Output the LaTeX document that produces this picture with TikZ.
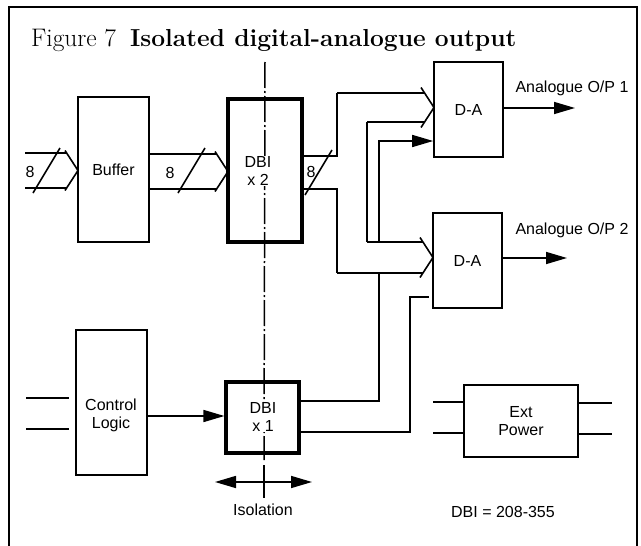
\documentclass[tikz,border=0pt]{standalone}
\usepackage{fontspec}
\setsansfont{Liberation Sans}
\usetikzlibrary{arrows.meta}
\newcommand\busto[5]{% tip x, centre y, half width, upper start x, lower start x
  \draw[wire] (#4,#2-#3) -- (#1-13*#3/20,#2-#3);
  \draw[wire] (#5,#2+#3) -- (#1-13*#3/20,#2+#3);
  \draw[wire,line join=miter] (#1-13,#2-20) -- (#1,#2) -- (#1-13,#2+20);
}
\begin{document}
\begin{tikzpicture}[x=1pt,y=-1pt,
  box/.style={draw,line width=1.6pt,inner sep=0pt,font=\sffamily\fontsize{16}{18}\selectfont,align=center},
  thickbox/.style={draw,line width=3.2pt,inner sep=0pt},
  lbl/.style={font=\sffamily\fontsize{16}{18}\selectfont,align=center,inner sep=1pt},
  wire/.style={line width=1.6pt},
  arr/.style={wire,-{Triangle[length=21pt,width=12pt]}},
  isol/.style={line width=1.5pt,dash pattern=on 26pt off 3pt on 2pt off 3pt},
]
\useasboundingbox (0,0) rectangle (641,546);
% frame
\draw[line width=2.6pt] (9,546) -- (9,7) -- (637,7) -- (637,546);
% title
\node[anchor=base west,inner sep=0pt] (title) at (31,46)
  {\fontsize{25.4}{28}\selectfont Figure 7\hspace{0.55em}\fontsize{24.6}{28}\selectfont\textbf{Isolated digital-analogue output}};

% boxes
\node[box,minimum width=71pt,minimum height=145pt] (buf) at (113.5,169.5) {Buffer};
\node[thickbox,minimum width=74pt,minimum height=143pt] (dbi2) at (265,170.5) {};
\node[thickbox,minimum width=73pt,minimum height=71pt] (dbi1) at (262.5,417.5) {};
\node[box,minimum width=71pt,minimum height=145pt] (ctl) at (111.5,402.5) {};
\node[box,minimum width=69pt,minimum height=95pt] (da1) at (468.5,109.5) {D-A};
\node[box,minimum width=69pt,minimum height=95pt] (da2) at (467.5,260.5) {D-A};
\node[box,minimum width=114pt,minimum height=72pt] (ext) at (521,421) {Ext\\Power};

% isolation line
\draw[isol] (265,62) -- (264,460);
\draw[wire] (264,465) -- (264,498);
\draw[wire,{Triangle[length=21pt,width=12pt]}-{Triangle[length=21pt,width=12pt]}] (215,482) -- (312,482);

% texts in DBI boxes (cover the isolation line)
\node[lbl,fill=white,inner sep=0.5pt] (t2) at (258,171) {DBI\\x 2};
\node[lbl,fill=white,inner sep=0.5pt] (t1) at (263,417) {DBI\\x 1};
\node[lbl] (tc) at (111,415) {Control\\Logic};

% buses
\busto{78}{170.5}{17.5}{25}{25}
\busto{228}{171.5}{17.5}{149}{149}
\busto{434}{107.5}{14.5}{337}{367}
\busto{433}{257.5}{15.5}{367}{337}
\draw[wire] (dbi2.east |- 0,156) -- (337,156) -- (337,93);
\draw[wire] (dbi2.east |- 0,189) -- (337,189) -- (337,273);
\draw[wire] (367,122) -- (367,242);
% bus slashes and widths
\draw[wire] (33,193) -- (60,148);
\draw[wire] (178,193) -- (205,148);
\draw[wire] (305,195) -- (332,150);
\node[lbl] (n1) at (30,172) {8};
\node[lbl] (n2) at (170,173) {8};
\node[lbl] (n3) at (311,172) {8};

% control wires
\coordinate (c1) at (379,273);
\coordinate (c2) at (379,242);
\draw[wire] (dbi1.east |- 0,401) -| (c1);
\draw[arr] (c2) |- (da1.west |- 0,141);
\coordinate (c3) at (429,297);
\draw[wire] (dbi1.east |- 0,432) -| (c3 -| 410,0) -- (c3);
\draw[arr] (ctl.east |- 0,416) -- (dbi1.west |- 0,416);

% outputs
\draw[arr] (da1.east) ++(0,-1.5) -- (575,108);
\draw[arr] (da2.east) ++(0,-2.5) -- (567,258);
\node[lbl] (o1) at (572,88) {Analogue O/P 1};
\node[lbl] (o2) at (572,230) {Analogue O/P 2};

% control logic inputs
\draw[wire] (26,398) -- (69,398);
\draw[wire] (26,429) -- (69,429);
% ext power leads
\draw[wire] (433,402) -- (ext.west |- 0,402);
\draw[wire] (433,433) -- (ext.west |- 0,433);
\draw[wire] (ext.east |- 0,403) -- (612,403);
\draw[wire] (ext.east |- 0,434) -- (612,434);

\node[lbl] (iso) at (263,510) {Isolation};
\node[lbl] (dbinote) at (503,512) {DBI = 208-355};
\end{tikzpicture}
\end{document}
